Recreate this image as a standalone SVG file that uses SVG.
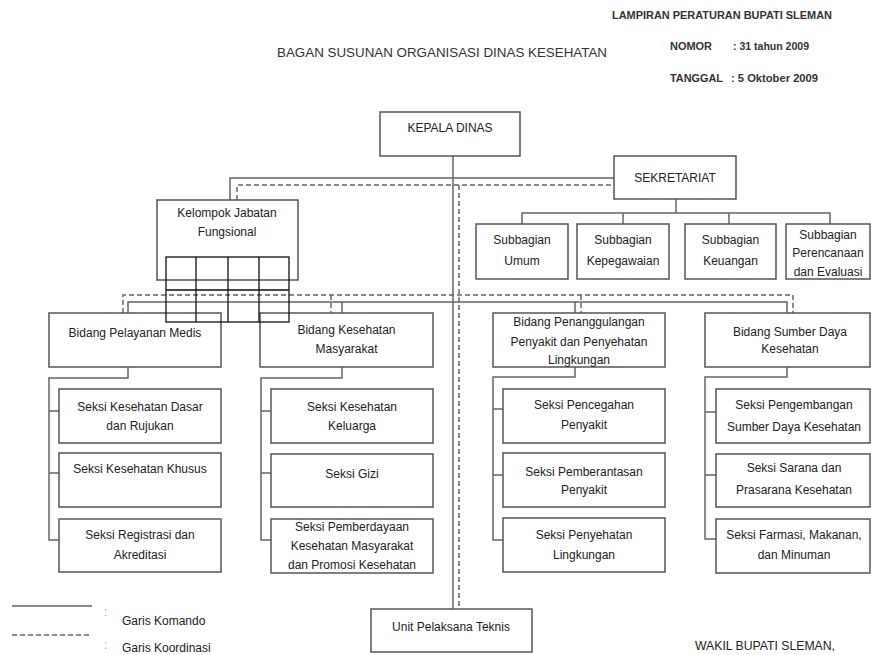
<svg xmlns="http://www.w3.org/2000/svg" width="871" height="655" viewBox="0 0 871 655">
<style>
.bg{fill:#ffffff}
.box{fill:#ffffff;stroke:#555555;stroke-width:1.5}
.t{font-family:"Liberation Sans",Arial,sans-serif;font-size:12px;fill:#222222;text-anchor:middle}
.tl{font-family:"Liberation Sans",Arial,sans-serif;font-size:12px;fill:#222222}
.hd{font-family:"Liberation Sans",Arial,sans-serif;font-size:10px;font-weight:bold;fill:#333333}
.solid{fill:none;stroke:#666666;stroke-width:1.5}
.dash{fill:none;stroke:#666666;stroke-width:1.5;stroke-dasharray:5,3}
.grid{fill:none;stroke:#111111;stroke-width:1.3}
</style>
<rect class="bg" x="0" y="0" width="871" height="655"/>

<g id="header">
<text class="hd" x="612" y="19" textLength="220" lengthAdjust="spacingAndGlyphs">LAMPIRAN  PERATURAN BUPATI SLEMAN</text>
<text x="277" y="57" font-family="Liberation Sans, Arial, sans-serif" font-size="13.5" fill="#333333" textLength="330" lengthAdjust="spacingAndGlyphs">BAGAN SUSUNAN ORGANISASI DINAS KESEHATAN</text>
<text class="hd" x="670" y="50" textLength="42" lengthAdjust="spacingAndGlyphs">NOMOR</text>
<text class="hd" x="733" y="50" textLength="76" lengthAdjust="spacingAndGlyphs">: 31 tahun 2009</text>
<text class="hd" x="670" y="82" textLength="53" lengthAdjust="spacingAndGlyphs">TANGGAL</text>
<text class="hd" x="731" y="82" textLength="87" lengthAdjust="spacingAndGlyphs">: 5 Oktober 2009</text>
</g>

<g id="connectors">
<path class="solid" d="M453,156 V609"/>
<path class="solid" d="M230,200 V178 H614"/>
<path class="solid" d="M676,199 V213 M522,224 V213 H830 V224 M623,213 V224 M729,213 V224"/>
<path class="solid" d="M128,313 V302 H787 V313 M342,302 V313 M575,302 V313"/>
<path class="solid" d="M128,367 V378 H49 V540 H59 M49,411 H59 M49,473 H59"/>
<path class="solid" d="M342,367 V378 H261 V540 H271 M261,411 H271 M261,473 H271"/>
<path class="solid" d="M575,367 V377 H493 V540 H503 M493,409 H503 M493,475 H503"/>
<path class="solid" d="M787,367 V377 H705 V539 H716 M705,412 H716 M705,475 H716"/>
<path class="dash" d="M237,200 V185 H614"/>
<path class="dash" d="M459,185 V609"/>
<path class="dash" d="M123,313 V295 H793 V313 M331,295 V313 M581,295 V313"/>
</g>

<g id="kepala-dinas">
<rect class="box" x="380" y="112" width="140" height="44"/>
<text class="t" x="450" y="132">KEPALA DINAS</text>
</g>
<g id="sekretariat">
<rect class="box" x="614" y="156" width="122" height="43"/>
<text class="t" x="675" y="182">SEKRETARIAT</text>
</g>

<g id="subbagian-umum">
<rect class="box" x="476" y="224" width="92" height="55"/>
<text class="t" x="522" y="244">Subbagian</text>
<text class="t" x="522" y="265">Umum</text>
</g>
<g id="subbagian-kepegawaian">
<rect class="box" x="577" y="224" width="92" height="55"/>
<text class="t" x="623" y="244">Subbagian</text>
<text class="t" x="623" y="265">Kepegawaian</text>
</g>
<g id="subbagian-keuangan">
<rect class="box" x="685" y="224" width="91" height="55"/>
<text class="t" x="730.5" y="244">Subbagian</text>
<text class="t" x="730.5" y="265">Keuangan</text>
</g>
<g id="subbagian-perencanaan">
<rect class="box" x="786" y="224" width="84" height="55"/>
<text class="t" x="828" y="239">Subbagian</text>
<text class="t" x="828" y="257">Perencanaan</text>
<text class="t" x="828" y="276">dan Evaluasi</text>
</g>

<g id="bidang-pelayanan-medis">
<rect class="box" x="49" y="313" width="172" height="54"/>
<text class="t" x="135" y="337">Bidang Pelayanan Medis</text>
</g>
<g id="bidang-kesehatan-masyarakat">
<rect class="box" x="260" y="313" width="173" height="54"/>
<text class="t" x="346.5" y="334">Bidang Kesehatan</text>
<text class="t" x="346.5" y="353">Masyarakat</text>
</g>
<g id="bidang-penanggulangan">
<rect class="box" x="493" y="313" width="172" height="54"/>
<text class="t" x="579" y="326">Bidang Penanggulangan</text>
<text class="t" x="579" y="346">Penyakit dan Penyehatan</text>
<text class="t" x="579" y="364">Lingkungan</text>
</g>
<g id="bidang-sumber-daya">
<rect class="box" x="705" y="313" width="165" height="54"/>
<text class="t" x="790" y="336">Bidang Sumber Daya</text>
<text class="t" x="790" y="353">Kesehatan</text>
</g>

<g id="kelompok-jabatan">
<rect class="box" x="157" y="200" width="141" height="80"/>
<text class="t" x="227" y="217">Kelompok Jabatan</text>
<text class="t" x="227" y="236">Fungsional</text>
<rect class="grid" x="166" y="257" width="123" height="65"/>
<path class="grid" d="M196,257 V322 M228,257 V322 M259,257 V322 M166,290 H289"/>
</g>

<g id="seksi-kesehatan-dasar">
<rect class="box" x="59" y="389" width="162" height="54"/>
<text class="t" x="140" y="411">Seksi Kesehatan Dasar</text>
<text class="t" x="140" y="430">dan Rujukan</text>
</g>
<g id="seksi-kesehatan-khusus">
<rect class="box" x="59" y="453" width="162" height="54"/>
<text class="t" x="140" y="473">Seksi Kesehatan Khusus</text>
</g>
<g id="seksi-registrasi">
<rect class="box" x="59" y="519" width="162" height="53"/>
<text class="t" x="140" y="539">Seksi Registrasi dan</text>
<text class="t" x="140" y="559">Akreditasi</text>
</g>

<g id="seksi-kesehatan-keluarga">
<rect class="box" x="271" y="389" width="162" height="54"/>
<text class="t" x="352" y="411">Seksi Kesehatan</text>
<text class="t" x="352" y="430">Keluarga</text>
</g>
<g id="seksi-gizi">
<rect class="box" x="271" y="454" width="162" height="53"/>
<text class="t" x="352" y="478">Seksi Gizi</text>
</g>
<g id="seksi-pemberdayaan">
<rect class="box" x="271" y="519" width="162" height="54"/>
<text class="t" x="352" y="531">Seksi Pemberdayaan</text>
<text class="t" x="352" y="550">Kesehatan Masyarakat</text>
<text class="t" x="352" y="569">dan Promosi Kesehatan</text>
</g>

<g id="seksi-pencegahan">
<rect class="box" x="503" y="389" width="162" height="54"/>
<text class="t" x="584" y="409">Seksi Pencegahan</text>
<text class="t" x="584" y="429">Penyakit</text>
</g>
<g id="seksi-pemberantasan">
<rect class="box" x="503" y="453" width="162" height="54"/>
<text class="t" x="584" y="476">Seksi Pemberantasan</text>
<text class="t" x="584" y="494">Penyakit</text>
</g>
<g id="seksi-penyehatan-lingkungan">
<rect class="box" x="503" y="518" width="162" height="54"/>
<text class="t" x="584" y="539">Seksi Penyehatan</text>
<text class="t" x="584" y="559">Lingkungan</text>
</g>

<g id="seksi-pengembangan">
<rect class="box" x="716" y="389" width="154" height="54"/>
<text class="t" x="794" y="409">Seksi Pengembangan</text>
<text class="t" x="794" y="431">Sumber Daya Kesehatan</text>
</g>
<g id="seksi-sarana">
<rect class="box" x="716" y="454" width="154" height="53"/>
<text class="t" x="794" y="472">Seksi Sarana dan</text>
<text class="t" x="794" y="494">Prasarana Kesehatan</text>
</g>
<g id="seksi-farmasi">
<rect class="box" x="716" y="519" width="154" height="54"/>
<text class="t" x="794" y="539">Seksi Farmasi, Makanan,</text>
<text class="t" x="794" y="559">dan Minuman</text>
</g>

<g id="unit-pelaksana-teknis">
<rect class="box" x="371" y="609" width="161" height="43"/>
<text class="t" x="451" y="631">Unit Pelaksana Teknis</text>
</g>

<g id="legend">
<path class="solid" d="M12,606 H92"/>
<path class="dash" d="M12,635 H92"/>
<text class="tl" x="104" y="616" style="fill:#aaaaaa">:</text>
<text class="tl" x="104" y="649" style="fill:#aaaaaa">:</text>
<text class="tl" x="122" y="625">Garis Komando</text>
<text class="tl" x="122" y="652">Garis Koordinasi</text>
</g>

<g id="signature">
<text class="tl" x="695" y="650" textLength="140" lengthAdjust="spacingAndGlyphs">WAKIL BUPATI SLEMAN,</text>
</g>
</svg>
